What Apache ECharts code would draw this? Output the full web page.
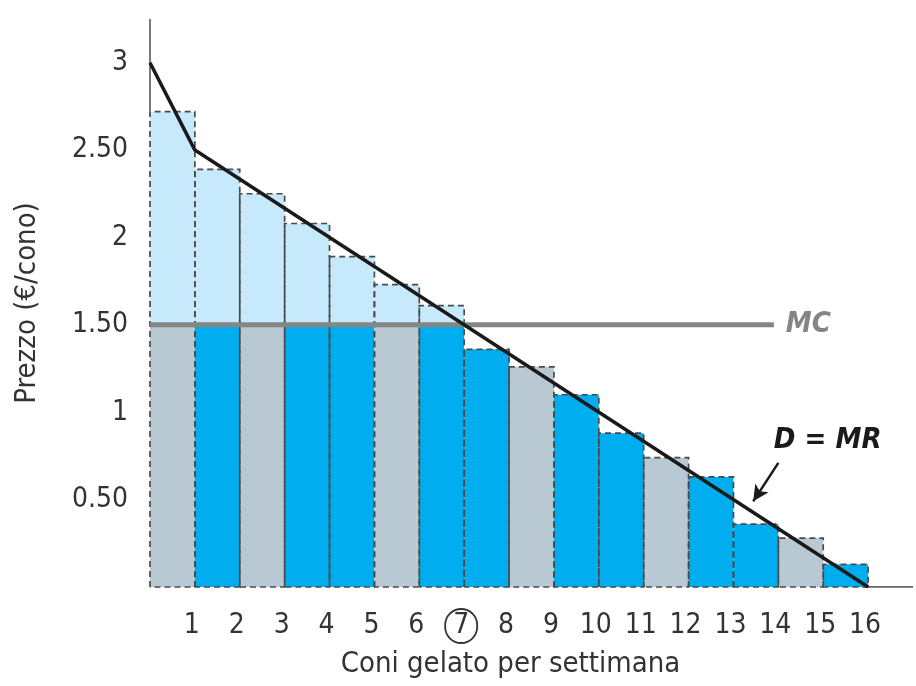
<!DOCTYPE html>
<html>
<head>
<meta charset="utf-8">
<script src="https://cdn.jsdelivr.net/npm/echarts@6/dist/echarts.min.js"></script>
<style>html,body{margin:0;padding:0;background:#fff}#c{width:916px;height:686px}</style>
</head>
<body>
<div id="c"></div>
<script>
// ---- data ----
const quantities = [1,2,3,4,5,6,7,8,9,10,11,12,13,14,15,16];
const barTops = [2.72,2.39,2.25,2.08,1.89,1.73,1.61,1.36,1.26,1.10,0.88,0.74,0.63,0.36,0.28,0.13];
const barKind = ['g','b','g','b','b','g','b','b','g','b','b','g','b','b','g','b'];
const demandLine = [[0,3],[1,2.5],[16,0]];
const mcValue = 1.5;
const mcEnd = 13.9;
const yTicks = {0:'',0.5:'0.50',1:'1',1.5:'1.50',2:'2',2.5:'2.50',3:'3'};
const circledTick = 7;
const yMax = 3.25, xMax = 17;
const labelDMR = [15.1, 0.84];
const arrowFrom = [14.0, 0.71], arrowTo = [13.44, 0.49];

const FONT = "'Liberation Sans Narrow','DejaVu Sans Condensed','Roboto',sans-serif";
const colors = {g:'#b9c9d3', b:'#00aeef', light:'#c6e9fb', edge:'#4a4a4a'};

const barData = quantities.map((q,i)=>[q-1, q, barTops[i], i]);

const chart = echarts.init(document.getElementById('c'));
chart.setOption({
  animation:false,
  grid:{left:150, right:3, top:19, bottom:99},
  xAxis:{
    type:'value', min:0, max:xMax, interval:1,
    axisLine:{show:false}, axisTick:{show:false}, splitLine:{show:false},
    axisLabel:{
      margin:22, fontFamily:FONT, fontSize:28, color:'#333', lineHeight:34, padding:[0,6,0,0],
      formatter:v=> (v<1||v>16) ? '' : (v===circledTick ? '{c|'+v+'}' : String(v)),
      rich:{c:{width:32,height:34,lineHeight:34,align:'center',borderColor:'#333',borderWidth:1.8,borderRadius:18,fontFamily:FONT,fontSize:28,color:'#333'}}
    },
    name:'Coni gelato per settimana', nameLocation:'middle', nameGap:63,
    nameTextStyle:{fontFamily:FONT, fontSize:29, color:'#333', padding:[0,42,0,0]}
  },
  yAxis:{
    type:'value', min:0, max:yMax, interval:0.5,
    axisLine:{show:false}, axisTick:{show:false}, splitLine:{show:false},
    axisLabel:{margin:22, fontFamily:FONT, fontSize:28, color:'#333',
      formatter:v=> (yTicks[v]!==undefined ? yTicks[v] : '')},
    name:'Prezzo (€/cono)', nameLocation:'middle', nameGap:108,
    nameTextStyle:{fontFamily:FONT, fontSize:29, color:'#333'}
  },
  series:[
    {
      type:'custom', z:2, data:barData,
      renderItem:(params, api)=>{
        const x0=api.value(0), x1=api.value(1), top=api.value(2), idx=api.value(3);
        const low=Math.min(top, mcValue);
        const a=api.coord([x0,0]), b=api.coord([x1,low]);
        const ch=[{type:'rect', shape:{x:a[0], y:b[1], width:b[0]-a[0], height:a[1]-b[1]}, style:{fill:colors[barKind[idx]]}}];
        if(top>mcValue){
          const c=api.coord([x0,mcValue]), d=api.coord([x1,top]);
          ch.push({type:'rect', shape:{x:c[0], y:d[1], width:d[0]-c[0], height:c[1]-d[1]}, style:{fill:colors.light}});
        }
        return {type:'group', children:ch};
      }
    },
    {
      type:'custom', z:3, data:barData,
      renderItem:(params, api)=>{
        const x0=api.value(0), x1=api.value(1), top=api.value(2);
        const p=[[x0,0],[x0,top],[x1,top],[x1,0],[x0,0]].map(v=>api.coord(v));
        return {type:'polyline', shape:{points:p}, style:{fill:null, stroke:colors.edge, lineWidth:1.7, lineDash:[6,4]}};
      }
    },
    {
      type:'line', z:4, data:[[0,barTops[0]],[0,yMax]], symbol:'none',
      lineStyle:{color:'#7a7a7a', width:2}
    },
    {
      type:'line', z:4, data:[[16,0],[xMax,0]], symbol:'none',
      lineStyle:{color:'#333', width:1.6}
    },
    {
      type:'line', z:5, data:[[0,mcValue],[mcEnd,mcValue]], symbol:'none',
      lineStyle:{color:'#858585', width:5},
      endLabel:{show:true, formatter:'MC', fontFamily:FONT, fontSize:29, fontWeight:'bold', fontStyle:'italic', color:'#858585', distance:12}
    },
    {
      type:'line', z:6, data:demandLine, symbol:'none',
      lineStyle:{color:'#1a1a1a', width:3.5},
      markPoint:{
        symbol:'circle', symbolSize:0,
        label:{show:true, position:'inside', formatter:'D = MR', fontFamily:FONT, fontSize:29, fontWeight:'bold', fontStyle:'italic', color:'#1a1a1a'},
        data:[{coord:labelDMR}]
      },
      markLine:{
        silent:true, symbol:['none','arrow'], symbolSize:[12,16],
        lineStyle:{color:'#1a1a1a', width:2.5, type:'solid'},
        label:{show:false},
        data:[[{coord:arrowFrom},{coord:arrowTo}]]
      }
    }
  ]
});
</script>
</body>
</html>
